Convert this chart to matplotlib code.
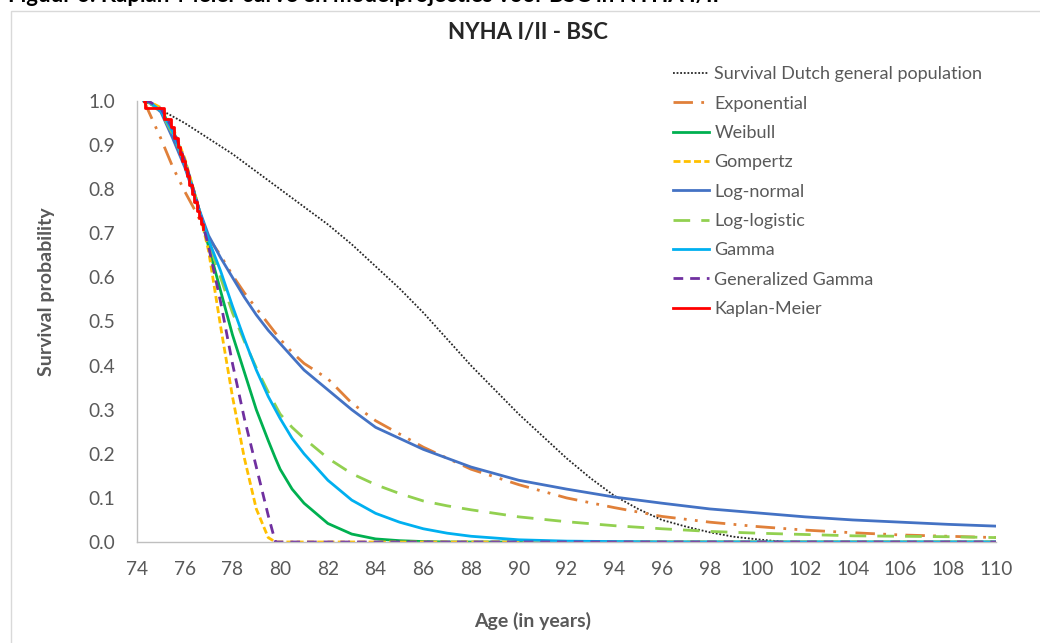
import numpy as np
import matplotlib
matplotlib.use("Agg")
import matplotlib.pyplot as plt
from matplotlib.patches import Rectangle

plt.rcParams['font.family'] = ['Lato', 'DejaVu Sans']

# age grid shared by the fitted models
ages = [74.3, 74.5, 75, 75.5, 76, 76.5, 77, 77.5, 78, 78.5, 79, 79.5, 79.8, 80, 80.5, 81,
        82, 83, 84, 85, 86, 87, 88, 90, 92, 94, 96, 98, 100, 102, 104, 106, 108, 110]

exponential = [1.0, 0.975, 0.915, 0.85, 0.795, 0.745, 0.69, 0.65, 0.605, 0.565, 0.53, 0.495, 0.474, 0.46, 0.43, 0.405,
               0.37, 0.315, 0.275, 0.245, 0.215, 0.19, 0.165, 0.13, 0.1, 0.078, 0.058, 0.045, 0.035, 0.027, 0.021, 0.016, 0.013, 0.01]
weibull = [1.0, 0.998, 0.98, 0.935, 0.865, 0.775, 0.67, 0.57, 0.47, 0.385, 0.3, 0.23, 0.19, 0.165, 0.12, 0.088,
           0.042, 0.018, 0.007, 0.003, 0.001, 0.0, 0, 0, 0, 0, 0, 0, 0, 0, 0, 0, 0, 0]
gompertz = [1.0, 0.999, 0.985, 0.94, 0.87, 0.775, 0.66, 0.49, 0.33, 0.19, 0.075, 0.01, 0.0, 0, 0, 0,
            0, 0, 0, 0, 0, 0, 0, 0, 0, 0, 0, 0, 0, 0, 0, 0, 0, 0]
lognormal = [1.0, 0.998, 0.975, 0.915, 0.85, 0.77, 0.695, 0.645, 0.6, 0.555, 0.515, 0.48, 0.462, 0.45, 0.42, 0.39,
             0.345, 0.3, 0.26, 0.235, 0.21, 0.19, 0.17, 0.14, 0.12, 0.102, 0.088, 0.075, 0.066, 0.057, 0.05, 0.045, 0.04, 0.036]
loglogistic = [1.0, 0.997, 0.975, 0.925, 0.86, 0.77, 0.68, 0.6, 0.52, 0.455, 0.395, 0.34, 0.31, 0.29, 0.26, 0.235,
               0.19, 0.155, 0.13, 0.11, 0.093, 0.082, 0.073, 0.057, 0.046, 0.037, 0.03, 0.024, 0.02, 0.017, 0.014, 0.013, 0.012, 0.01]
gamma = [1.0, 0.998, 0.978, 0.93, 0.86, 0.77, 0.685, 0.615, 0.535, 0.46, 0.39, 0.33, 0.3, 0.28, 0.235, 0.2,
         0.14, 0.095, 0.065, 0.045, 0.03, 0.02, 0.013, 0.005, 0.002, 0.001, 0, 0, 0, 0, 0, 0, 0, 0]
gen_gamma = [1.0, 0.999, 0.983, 0.937, 0.865, 0.775, 0.67, 0.545, 0.405, 0.28, 0.17, 0.06, 0.0, 0, 0, 0,
             0, 0, 0, 0, 0, 0, 0, 0, 0, 0, 0, 0, 0, 0, 0, 0, 0, 0]

# general population survival
pop_ages = [74.3, 75, 76, 77, 78, 79, 80, 81, 82, 83, 84, 85, 86, 87, 88, 89, 90,
            91, 92, 93, 94, 95, 96, 97, 98, 99, 100, 101]
pop_surv = [1.0, 0.98, 0.95, 0.915, 0.88, 0.84, 0.8, 0.76, 0.72, 0.675, 0.625, 0.575, 0.52, 0.46, 0.4, 0.345, 0.29,
            0.24, 0.19, 0.145, 0.105, 0.075, 0.05, 0.035, 0.022, 0.012, 0.006, 0.001]

# Kaplan-Meier steps
km_ages = [74.3, 74.35, 75.15, 75.42, 75.55, 75.7, 75.8, 75.9, 76.0, 76.1, 76.2, 76.3, 76.4, 76.5, 76.6, 76.7, 76.78]
km_surv = [1.0, 0.985, 0.96, 0.94, 0.915, 0.895, 0.88, 0.865, 0.845, 0.83, 0.81, 0.79, 0.77, 0.75, 0.735, 0.72, 0.71]

fig = plt.figure(figsize=(10.4, 6.43), dpi=100)
ax = fig.add_axes([137/1040, 1-542/643, 859/1040, 441/643])

ax.plot(pop_ages, pop_surv, color='#262626', lw=1.3, ls=(0, (1, 1)), label='Survival Dutch general population')
ax.plot(ages, exponential, color='#E0803A', lw=2, ls=(0, (7, 3, 1, 3, 1, 3)), label='Exponential')
ax.plot(ages, weibull, color='#00B050', lw=2, label='Weibull')
ax.plot(ages, gompertz, color='#FFC000', lw=2, ls=(0, (2.5, 1.2)), label='Gompertz')
ax.plot(ages, lognormal, color='#4472C4', lw=2, label='Log-normal')
ax.plot(ages, loglogistic, color='#92D050', lw=2, ls=(0, (6, 4)), label='Log-logistic')
ax.plot(ages, gamma, color='#00B0F0', lw=2, label='Gamma')
ax.plot(ages, gen_gamma, color='#7030A0', lw=2, ls=(0, (3.5, 2.5)), label='Generalized Gamma')
ax.plot(km_ages, km_surv, color='#FF0000', lw=2, drawstyle='steps-post', label='Kaplan-Meier')

ax.set_xlim(74, 110)
ax.set_ylim(0, 1.0)
ax.set_xticks(np.arange(74, 111, 2))
ax.set_yticks(np.arange(0, 1.01, 0.1))
ax.set_yticklabels([f'{v:.1f}' for v in np.arange(0, 1.01, 0.1)])
ax.tick_params(length=0, labelsize=13.8, labelcolor='#595959')
ax.tick_params(axis='y', pad=16)
ax.tick_params(axis='x', pad=14)
for s in ['top', 'right']:
    ax.spines[s].set_visible(False)
for s in ['left', 'bottom']:
    ax.spines[s].set_color('#BFBFBF')
    ax.spines[s].set_linewidth(1)

ax.set_xlabel('Age (in years)', fontsize=14, fontweight='bold', color='#595959')
ax.set_ylabel('Survival probability', fontsize=14, fontweight='bold', color='#595959')
ax.xaxis.set_label_coords(0.46, -0.159)
ax.yaxis.set_label_coords(-0.0955, 0.567)

fig.text(528/1040, 1-33/643, 'NYHA I/II - BSC', ha='center', va='center', fontsize=16, fontweight='bold', color='#262626')
# heading of the page, cut off at the top
fig.text(8/1040, 1-1.5/643, 'Figuur 6: Kaplan-Meier curve en modelprojecties voor BSC in NYHA I/II',
         ha='left', va='baseline', fontsize=16, fontweight='bold', color='black')

fig.patches.append(Rectangle((11/1040, -0.1), 1.2, 1.1-11/643, transform=fig.transFigure,
                             fill=False, edgecolor='#D9D9D9', lw=1))

leg = fig.legend(loc='upper left', bbox_to_anchor=(666/1040, 1-59/643), frameon=False,
                 fontsize=13, labelspacing=0.74, handlelength=2.0, handletextpad=0.28, borderaxespad=0)
for t in leg.get_texts():
    t.set_color('#595959')

fig.savefig('out.png', dpi=100)
